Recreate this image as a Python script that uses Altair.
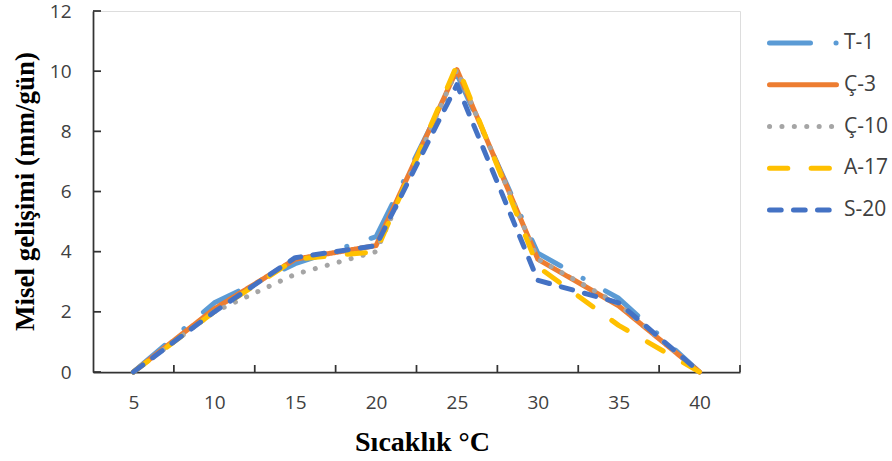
import altair as alt
import pandas as pd

# ---- data ----
temps = [5, 10, 15, 20, 25, 30, 35, 40]
series = ["T-1", "Ç-3", "Ç-10", "A-17", "S-20"]
t1 = [0, 2.3, 3.6, 4.5, 9.9, 3.95, 2.45, 0]
c3 = [0, 2.1, 3.75, 4.2, 10.05, 3.75, 2.2, 0]
c10 = [0, 2.0, 3.25, 4.0, 10.05, 3.75, 2.25, 0]
a17 = [0, 2.0, 3.75, 4.0, 10.2, 3.5, 1.55, 0]
s20 = [0, 2.0, 3.8, 4.2, 9.55, 3.05, 2.3, 0]
y_ticks = [0, 2, 4, 6, 8, 10, 12]

colors = ["#5B9BD5", "#ED7D31", "#A5A5A5", "#FFC000", "#4472C4"]
dashes = [[41, 25.5, 0.1, 25.5], [1, 0], [0.1, 12.3], [18.3, 23.3], [11.7, 12.3]]

values = {"T-1": t1, "Ç-3": c3, "Ç-10": c10, "A-17": a17, "S-20": s20}
rows = []
for s in series:
    for t, v in zip(temps, values[s]):
        rows.append({"temp": t, "value": v, "series": s})
df = pd.DataFrame(rows)

boundaries = pd.DataFrame({"b": [t + 2.5 for t in temps]})
yt = pd.DataFrame({"v": y_ticks})

leg_rows = []
for i, s in enumerate(series):
    for p in (0, 1):
        leg_rows.append({"series": s, "rank": i, "p": p})
leg_df = pd.DataFrame(leg_rows)
leg_lab = leg_df[leg_df["p"] == 1]

AX = "#333333"
xscale = alt.Scale(domain=[2.5, 42.5], nice=False)
yscale = alt.Scale(domain=[0, 12], nice=False)
xaxis = alt.Axis(values=temps, ticks=False, grid=False, labelPadding=21,
                 labelFontSize=19, labelFont="Open Sans", labelColor="#404040",
                 domainColor=AX, domainWidth=1.75, labelFlush=False,
                 title="Sıcaklık °C", titleFont="Liberation Serif", titleFontSize=28,
                 titleFontWeight="bold", titleColor="black", titleX=329, titleY=78,
                 titleBaseline="alphabetic", titleAlign="center")
yaxis = alt.Axis(values=y_ticks, ticks=False, grid=False, labelPadding=22,
                 labelFontSize=19, labelFont="Open Sans", labelColor="#404040",
                 domainColor=AX, domainWidth=1.75,
                 title="Misel gelişimi (mm/gün)", titleFont="Liberation Serif",
                 titleFontSize=27, titleFontWeight="bold", titleColor="black",
                 titleAngle=270, titleX=-60, titleY=180,
                 titleBaseline="alphabetic", titleAlign="center")

color_enc = alt.Color("series:N", scale=alt.Scale(domain=series, range=colors), legend=None)
dash_enc = alt.StrokeDash("series:N", scale=alt.Scale(domain=series, range=dashes), legend=None)

layers = []
for s in series:
    layers.append(
        alt.Chart(df).transform_filter(alt.datum.series == s)
        .mark_line(strokeWidth=5, strokeCap="round", strokeJoin="round")
        .encode(x=alt.X("temp:Q", scale=xscale, axis=xaxis),
                y=alt.Y("value:Q", scale=yscale, axis=yaxis),
                color=color_enc, strokeDash=dash_enc)
    )

xt = alt.Chart(boundaries).mark_rule(color=AX, strokeWidth=1.75).encode(
    x=alt.X("b:Q", scale=xscale, axis=xaxis), y=alt.value(361), y2=alt.value(354))
ytk = alt.Chart(yt).mark_rule(color=AX, strokeWidth=1.75).encode(
    y=alt.Y("v:Q", scale=yscale, axis=yaxis), x=alt.value(0), x2=alt.value(8))

main = alt.layer(xt, ytk, *layers)

lx = alt.X("p:Q", scale=alt.Scale(domain=[0, 1], range=[676.5, 743.5]), axis=None)
ly = alt.Y("rank:Q", scale=alt.Scale(domain=[0, 4], range=[32, 199]), axis=None)
leg_lines = alt.Chart(leg_df).mark_line(strokeWidth=5, strokeCap="round").encode(
    x=lx, y=ly, color=color_enc, strokeDash=dash_enc, detail="series:N")
leg_text = alt.Chart(leg_lab).mark_text(align="left", baseline="middle", dx=7.5,
                                        fontSize=21, font="Open Sans", color="#404040").encode(
    x=lx, y=ly, text="series:N")
legend = alt.layer(leg_lines, leg_text)

chart = alt.layer(main, legend).resolve_scale(x="independent", y="independent").properties(
    width=647, height=361,
    padding={"left": 93, "top": 11, "right": 152, "bottom": 89},
    autosize=alt.AutoSizeParams(type="none"),
).configure_view(stroke=None).configure(background="white")

chart.save("out.html", embed_options={"renderer": "svg", "actions": False})
